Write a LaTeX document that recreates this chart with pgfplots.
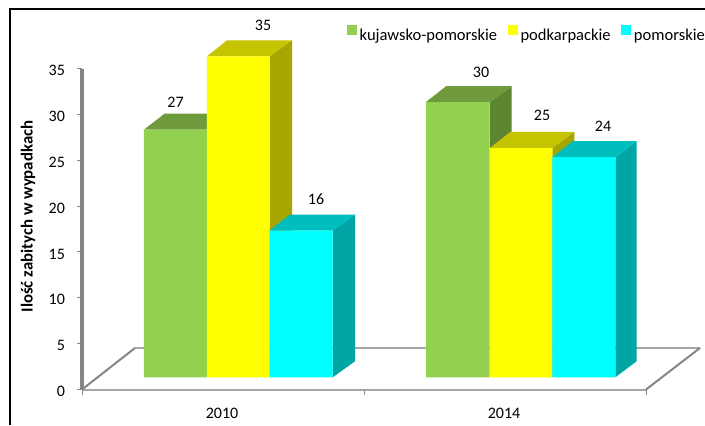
\documentclass[border=0pt]{standalone}
\usepackage{fontspec}
\setmainfont{Carlito}
\usepackage{pgfplots}
\pgfplotsset{compat=1.18}

\definecolor{zielony}{HTML}{92D050}
\definecolor{zielonyT}{HTML}{6F9B3C}
\definecolor{zielonyS}{HTML}{5E8532}
\definecolor{zolty}{HTML}{FFFF00}
\definecolor{zoltyT}{HTML}{C4C400}
\definecolor{zoltyS}{HTML}{A6A600}
\definecolor{cyjan}{HTML}{00FFFF}
\definecolor{cyjanT}{HTML}{00BEBE}
\definecolor{cyjanS}{HTML}{00A5A5}
\definecolor{os}{HTML}{868686}
\definecolor{podloga}{HTML}{A6A6A6}

\begin{document}
\begin{tikzpicture}
\path[use as bounding box] (0,0) rectangle (528.75pt,-318.75pt);
\draw[black,line width=1.5pt] (7.5pt,-318.75pt) -- (7.5pt,-6.8pt) -- (528.75pt,-6.8pt);
\begin{axis}[
    at={(61.5pt,-292.125pt)}, anchor=south west,
    x=0.75pt, y=6.878pt,
    xmin=82, xmax=646, ymin=0, ymax=35,
    clip=false,
    axis lines=left,
    axis line style={-},
    x axis line style={draw=podloga,line width=1.5pt},
    y axis line style={draw=os,line width=2.4pt},
    tick align=outside,
    xtick={222,504}, xticklabels={2010,2014},
    minor xtick={82,364,646},
    ytick={0,5,...,35},
    major tick length=3.75pt, minor tick length=3.75pt,
    major x tick style={draw=none},
    minor x tick style={draw=os,line width=0.75pt},
    y tick style={draw=os,line width=0.75pt},
    tick label style={font=\fontsize{12}{14}\selectfont},
    /pgf/number format/assume math mode=true,
    xticklabel style={yshift=-6.5pt},
    yticklabel style={xshift=-5.5pt,yshift=-1.5pt},
    ylabel={\textbf{Ilość zabitych w wypadkach}},
    ylabel style={at={(axis description cs:-0.0957,0.539)},anchor=center,rotate=0,font=\fontsize{12.6}{14}\selectfont},
    legend columns=-1,
    legend style={at={(axis description cs:0.4695,1.104)},anchor=west,draw=none,fill=none,
        font=\fontsize{12.4}{14}\selectfont,inner sep=0pt,
        /tikz/every odd column/.append style={column sep=0pt},
        /tikz/every even column/.append style={column sep=6pt}},
    legend image code/.code={\path[#1] (0pt,-3.75pt) rectangle (7.5pt,3.75pt);},
]
% podloga
\addplot[os,line width=1.5pt,forget plot] coordinates {(82,0) (135,4.53)};
\addplot[podloga,line width=1pt,forget plot] coordinates {(135,4.53) (700,4.53)};
\addplot[os,line width=1.5pt,forget plot] coordinates {(646,0) (700,4.53)};

% slupki stoja nad osia, stad przesuniecie (w scope dziala podwojnie)
\begin{scope}[yshift=4.575pt]
% kujawsko-pomorskie
\addplot[fill=zielonyS,draw=none,forget plot] coordinates {(207,0) (207,27) (229,28.75) (229,1.75)} --cycle;
\addplot[fill=zielonyT,draw=none,forget plot] coordinates {(144,27) (164.5,28.75) (229,28.75) (207,27)} --cycle;
\addplot[fill=zielonyS,draw=none,forget plot] coordinates {(489.7,0) (489.7,30) (511.7,31.75) (511.7,1.75)} --cycle;
\addplot[fill=zielonyT,draw=none,forget plot] coordinates {(425.7,30) (446.2,31.75) (511.7,31.75) (489.7,30)} --cycle;
\addplot[ybar,bar width=47.4pt,bar shift=0pt,fill=zielony,draw=none] coordinates {(175.4,27) (457.7,30)};
\addlegendentry{kujawsko-pomorskie}

% podkarpackie
\addplot[fill=zoltyS,draw=none,forget plot] coordinates {(269.5,0) (269.5,35) (292,36.75) (292,1.75)} --cycle;
\addplot[fill=zoltyT,draw=none,forget plot] coordinates {(207,35) (227,36.75) (292,36.75) (269.5,35)} --cycle;
\addplot[fill=zoltyS,draw=none,forget plot] coordinates {(552.3,0) (552.3,25) (574.3,26.75) (574.3,1.75)} --cycle;
\addplot[fill=zoltyT,draw=none,forget plot] coordinates {(489.7,25) (510.2,26.75) (574.3,26.75) (552.3,25)} --cycle;
\addplot[ybar,bar width=47pt,bar shift=0pt,fill=zolty,draw=none] coordinates {(238.2,35) (521,25)};
\addlegendentry{podkarpackie}

% pomorskie
\addplot[fill=cyjanS,draw=none,forget plot] coordinates {(332.7,0) (332.7,16) (355,17.75) (355,1.75)} --cycle;
\addplot[fill=cyjanT,draw=none,forget plot] coordinates {(269.5,16) (290,17.75) (355,17.75) (332.7,16)} --cycle;
\addplot[fill=cyjanS,draw=none,forget plot] coordinates {(615.3,0) (615.3,24) (636.7,25.75) (636.7,1.75)} --cycle;
\addplot[fill=cyjanT,draw=none,forget plot] coordinates {(552.3,24) (572.8,25.75) (636.7,25.75) (615.3,24)} --cycle;
\addplot[ybar,bar width=47.3pt,bar shift=0pt,fill=cyjan,draw=none] coordinates {(301.1,16) (583.8,24)};
\addlegendentry{pomorskie}
\end{scope}

% etykiety danych
\begin{scope}[every node/.style={font=\fontsize{12}{14}\selectfont}]
\node at (axis cs:175.6,31.35) {27};
\node at (axis cs:263,39.75) {35};
\node at (axis cs:316,20.77) {16};
\node at (axis cs:481,34.62) {30};
\node at (axis cs:542,29.93) {25};
\node at (axis cs:603,28.73) {24};
\end{scope}
\end{axis}
\end{tikzpicture}
\end{document}
